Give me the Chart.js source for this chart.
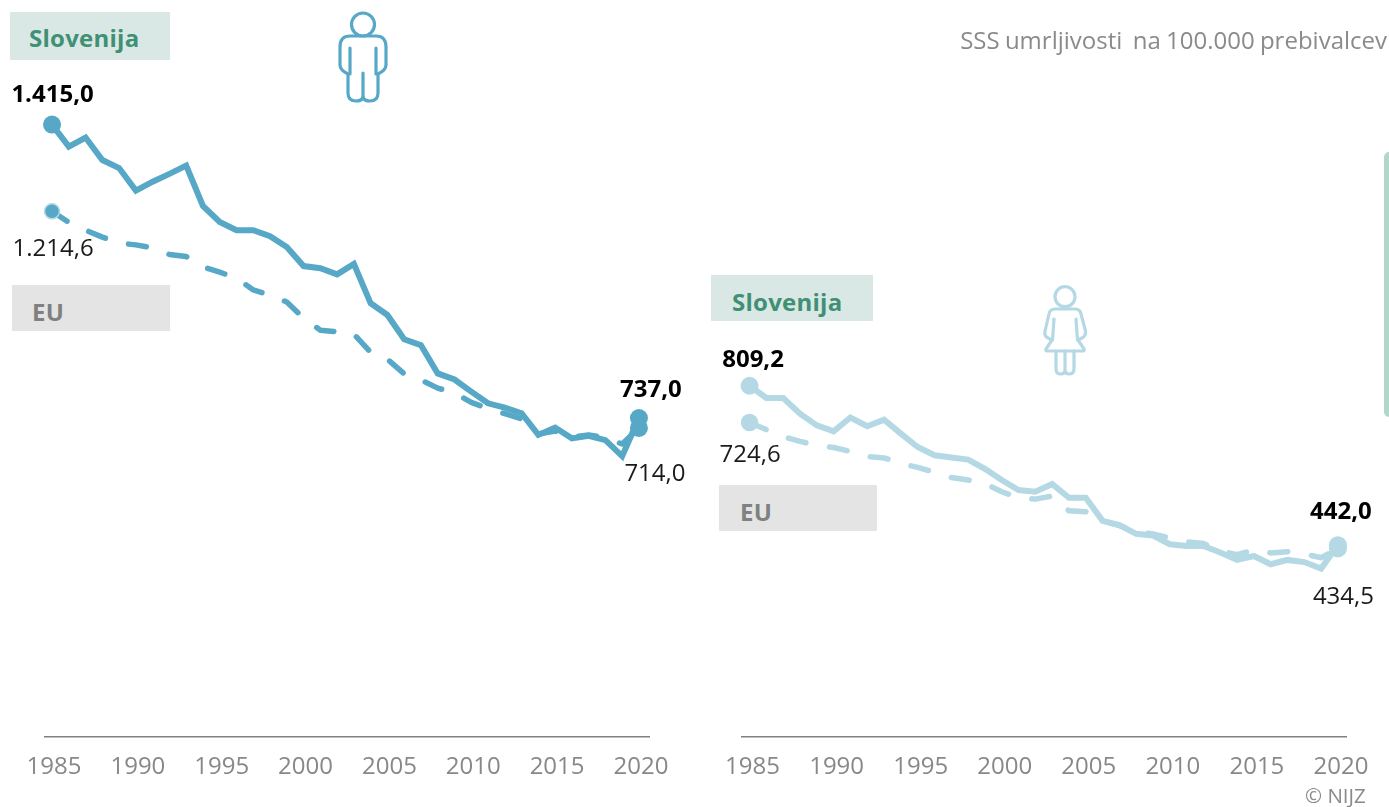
<!DOCTYPE html>
<html lang="sl">
<head>
<meta charset="utf-8">
<title>SSS umrljivost</title>
<script src="https://cdn.jsdelivr.net/npm/chart.js@4"></script>
<style>
html,body{margin:0;padding:0;background:#fff;overflow:hidden}
#page{position:relative;width:1389px;height:807px;font-family:"Open Sans",sans-serif}
canvas{position:absolute;top:0}
.box{position:absolute;font-weight:700;font-size:24px;letter-spacing:.25px;line-height:1;box-sizing:border-box;display:flex;align-items:center;padding-top:4px}
.si{background:#d9e8e4;color:#3f9075}
.eu{background:#e4e4e4;color:#808080}
.t{position:absolute;white-space:pre;color:#8a8a8a}
svg{position:absolute;left:0;top:0;pointer-events:none}
</style>
</head>
<body>
<div id="page">
<div style="position:absolute;left:0;top:0;width:695px;height:807px"><canvas id="left"></canvas></div>
<div style="position:absolute;left:695px;top:0;width:694px;height:807px"><canvas id="right"></canvas></div>
<div class="box si" style="left:10px;top:12px;width:160px;height:48px;padding-left:19px">Slovenija</div>
<div class="box eu" style="left:12px;top:285px;width:158px;height:46px;padding-left:20px;padding-top:8px">EU</div>
<div class="box si" style="left:711px;top:275px;width:162px;height:46px;padding-left:21px;padding-top:8px">Slovenija</div>
<div class="box eu" style="left:719px;top:485px;width:158px;height:46px;padding-left:21px;padding-top:8px">EU</div>
<div class="t" style="right:2px;top:23px;font-size:24px;line-height:33px;word-spacing:-1px">SSS umrljivosti  na 100.000 prebivalcev</div>
<div class="t" style="left:1305px;top:781px;font-size:20.5px;line-height:28px">© NIJZ</div>
<div style="position:absolute;left:1384px;top:152px;width:5px;height:265px;background:#b3d6cb;border-radius:7px 0 0 7px"></div>
<svg width="1389" height="807" fill="none" stroke-linecap="round" stroke-linejoin="round">
  <g stroke="#57a8c7" stroke-width="3.2">
    <circle cx="363" cy="24.5" r="11.5"/>
    <path d="M350 36H376Q386 36 386 47V65Q386 70 378 74V93Q378 101 370 101Q364 101 363 97Q362 101 356 101Q348 101 348 93V74Q340 70 340 65V47Q340 36 350 36Z"/>
    <path d="M350 48V74M376 48V74M363 73V97"/>
  </g>
  <g stroke="#b5d8e5" stroke-width="3.2">
    <circle cx="1065" cy="296.7" r="10"/>
    <path d="M1055 309H1075Q1080 309 1081 314L1085.5 331Q1086 336 1082 338L1078 340L1084 349Q1085 351 1082 351H1048Q1045 351 1046 349L1052 340L1048 338Q1044 336 1045 331L1049 314Q1050 309 1055 309Z"/>
    <path d="M1056 351V369Q1056 374 1061 374Q1065 374 1065 370V351M1065 370Q1065 374 1069 374Q1074 374 1074 369V351"/>
    <path d="M1054 319L1052.5 340M1076 319L1077.5 340"/>
  </g>
</svg>
</div>
<script>
const years = [1985,1986,1987,1988,1989,1990,1991,1992,1993,1994,1995,1996,1997,1998,1999,2000,2001,2002,2003,2004,2005,2006,2007,2008,2009,2010,2011,2012,2013,2014,2015,2016,2017,2018,2019,2020];
const tickYears = [1985,1990,1995,2000,2005,2010,2015,2020];

const menSlovenija = [1415.0,1364,1385,1333,1314.5,1262.5,1283,1301,1320,1227,1190,1171,1171,1157,1132,1088,1083,1069,1093,1002,975,919,905,840,826,798,771,761,748,698,715,690,696,686,649,737.0];
const menEU = [1214.6,1189,1171,1155,1141,1137,1130,1115,1110,1086,1074,1060,1033,1021,1005,968,940,936,931,889,873,839,825,806,795,773,759,747,735,700,707,693,698,691,677,714.0];

const womenSlovenija = [809.2,781,781,745,718,704,736,716,731,699,668,649,644,639,618,592,569,565,583,551,551,498,488,468,464,444,440,440,425,408,417,398,408,403,388,442.0];
const womenEU = [724.6,708,692,681,672,667,658,646,643,630,621,610,598,592,584,565,551,548,555,521,519,498,487,473,468,458,450,446,429,420,431,424,427,422,413,434.5];

const menLabels = ["1.415,0","737,0","1.214,6","714,0"];
const womenLabels = ["809,2","442,0","724,6","434,5"];

const DARK = "#57a8c7", LIGHT = "#b5d8e5";

const valueLabels = {
  id: "valueLabels",
  afterDatasetsDraw(chart, args, opts) {
    const c = chart.ctx;
    c.save();
    c.textAlign = "center";
    c.textBaseline = "alphabetic";
    opts.items.forEach(it => {
      const pt = chart.getDatasetMeta(it.ds).data[it.i];
      c.font = (it.bold ? "700 " : "400 ") + "24px 'Open Sans'";
      c.fillStyle = it.bold ? "#000" : "#1a1a1a";
      c.fillText(it.text, pt.x + it.dx, pt.y + it.dy);
    });
    c.restore();
  }
};

function make(id, w, color, solid, dashed, labels, o) {
  const el = document.getElementById(id);
  el.width = w; el.height = 807;
  const endpoint = r => ctx => (ctx.dataIndex === 0 || ctx.dataIndex === years.length - 1) ? r : 0;
  return new Chart(el, {
    type: "line",
    data: {
      labels: years,
      datasets: [
        { label: "Slovenija", data: years.map((y,i)=>({x:y,y:solid[i]})), borderColor: color, backgroundColor: color,
          borderWidth: 6, borderJoinStyle: "miter", tension: 0, pointRadius: endpoint(9), pointBorderWidth: 0, pointHoverRadius: 0, clip: false },
        { label: "EU", data: years.map((y,i)=>({x:y,y:dashed[i]})), borderColor: color, backgroundColor: color,
          borderWidth: 5.5, borderDash: [18,24], borderCapStyle: "round", borderJoinStyle: "round", tension: 0,
          pointRadius: ctx => ctx.dataIndex === 0 ? o.euStart : (ctx.dataIndex === years.length-1 ? 9 : 0),
          pointBorderWidth: ctx => ctx.dataIndex === 0 ? 1.5 : 0, pointBorderColor: LIGHT, pointHoverRadius: 0, clip: false }
      ]
    },
    options: {
      responsive: false, animation: false, events: [],
      layout: { padding: { left: o.padL, right: o.padR, top: 0, bottom: 0 } },
      plugins: { legend: { display: false }, tooltip: { enabled: false },
        valueLabels: { items: [
          { ds: 0, i: 0, text: labels[0], bold: true, dx: o.off[0][0], dy: o.off[0][1] },
          { ds: 0, i: 35, text: labels[1], bold: true, dx: o.off[1][0], dy: o.off[1][1] },
          { ds: 1, i: 0, text: labels[2], bold: false, dx: o.off[2][0], dy: o.off[2][1] },
          { ds: 1, i: 35, text: labels[3], bold: false, dx: o.off[3][0], dy: o.off[3][1] }
        ] } },
      scales: {
        x: { type: "linear", min: o.xMin, max: o.xMax,
          afterBuildTicks: s => { s.ticks = tickYears.map(v => ({ value: v })); },
          afterFit: s => { s.height = 70; },
          grid: { display: false },
          border: { display: true, color: "#808080", width: 1.4 },
          ticks: { autoSkip: false, maxRotation: 0, padding: 8, labelOffset: o.lab, color: "#888888",
            font: { family: "'Open Sans'", size: 24 }, callback: v => String(v) } },
        y: { display: false, min: 0, max: o.yMax }
      }
    },
    plugins: [valueLabels]
  });
}

make("left", 695, DARK, menSlovenija, menEU, menLabels, {
  padL: 45, padR: 46, xMin: 1984.58, xMax: 2020.6, yMax: 1682, lab: 2, euStart: 7.5,
  off: [[0.5,-23],[12,-21],[1,45],[16,53]]
});
make("right", 694, LIGHT, womenSlovenija, womenEU, womenLabels, {
  padL: 47, padR: 43, xMin: 1984.55, xMax: 2020.48, yMax: 1676, lab: 3, euStart: 8,
  off: [[3.5,-19],[3,-26],[0.5,40],[5.5,56]]
});
</script>
</body>
</html>
